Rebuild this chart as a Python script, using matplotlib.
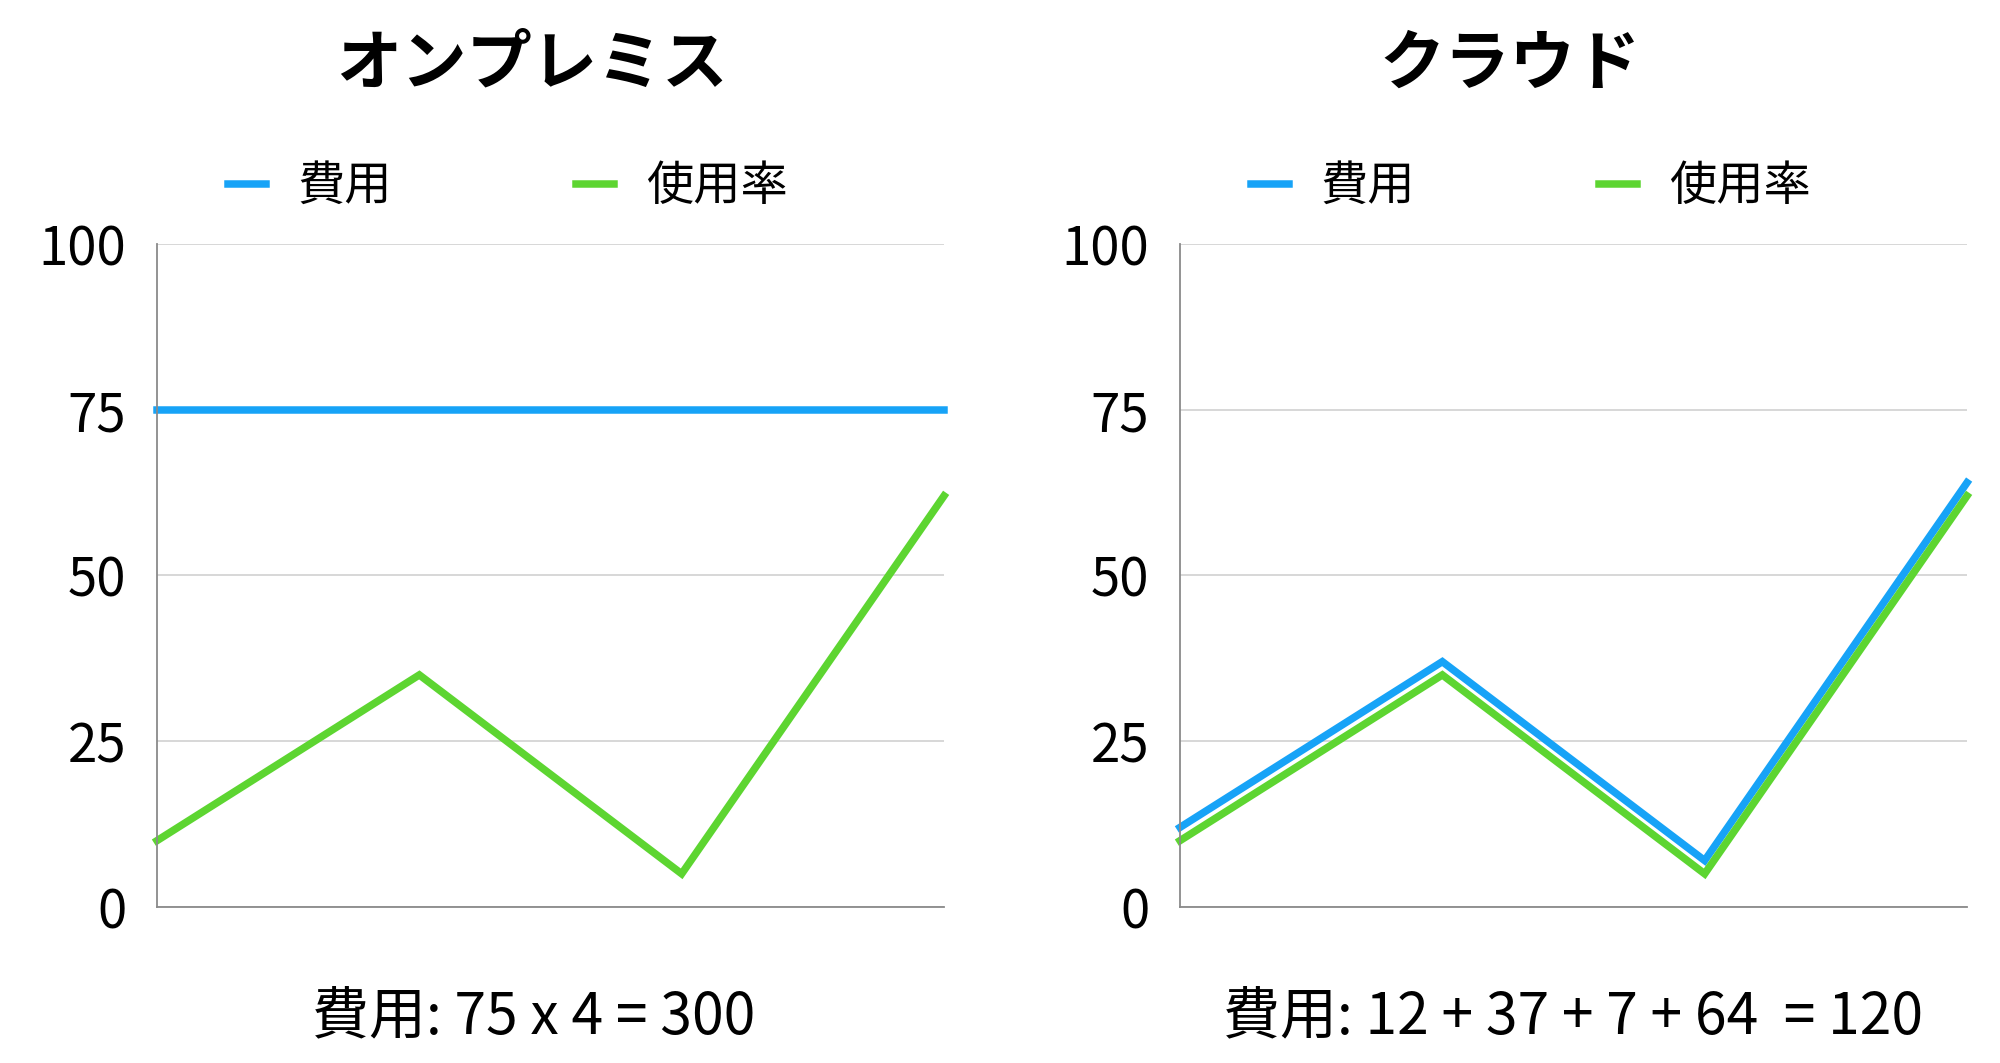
#Python libraries for math and graphics
import numpy as np
import matplotlib.pyplot as plt

plt.rcParams['font.family'] = ['Noto Sans CJK JP', 'DejaVu Sans']

# Data
titles = ['オンプレミス', 'クラウド']
series_names = ['費用', '使用率']
usage = [10, 35, 5, 62]
cost_onprem = [75, 75, 75, 75]
cost_cloud = [12, 37, 7, 64]
notes = ['費用: 75 x 4 = 300', '費用: 12 + 37 + 7 + 64  = 120']
yticks = [0, 25, 50, 75, 100]

blue = '#17a3f7'
green = '#5dd531'

fig = plt.figure(figsize=(20, 10.63), dpi=100)
ax_l = fig.add_axes([0.0785, 0.1468, 0.3935, 0.6237])
ax_r = fig.add_axes([0.59, 0.1468, 0.3935, 0.6237])

title_x = [0.266, 0.755]
note_x = [0.267, 0.7865]

for i, (ax, cost) in enumerate(zip([ax_l, ax_r], [cost_onprem, cost_cloud])):
  x = np.arange(len(usage))
  ax.plot(x, cost, color=blue, lw=5.4, label=series_names[0], clip_on=False,
          solid_joinstyle='miter')
  ax.plot(x, usage, color=green, lw=5.4, label=series_names[1], clip_on=False,
          solid_joinstyle='miter')
  ax.set_xlim(0, len(usage) - 1)
  ax.set_ylim(0, 100)
  ax.set_yticks(yticks)
  ax.set_xticks([])
  ax.grid(axis='y', color='#d4d4d4', lw=1.3)
  ax.set_axisbelow(True)
  for s in ['top', 'right']:
    ax.spines[s].set_visible(False)
  for s in ['left', 'bottom']:
    ax.spines[s].set_color('#8a8a8a')
    ax.spines[s].set_linewidth(1.3)
  ax.tick_params(axis='y', length=0, pad=22, labelsize=38)
  ax.legend(loc='center', bbox_to_anchor=(0.446, 1.086), ncol=2, frameon=False,
            fontsize=34, handlelength=0.8, handletextpad=0.68, columnspacing=3.9)
  fig.text(title_x[i], 0.94, titles[i], ha='center', va='center',
           fontsize=47, fontweight='bold')
  fig.text(note_x[i], 0.043, notes[i], ha='center', va='center', fontsize=41)

plt.savefig('out.png')
